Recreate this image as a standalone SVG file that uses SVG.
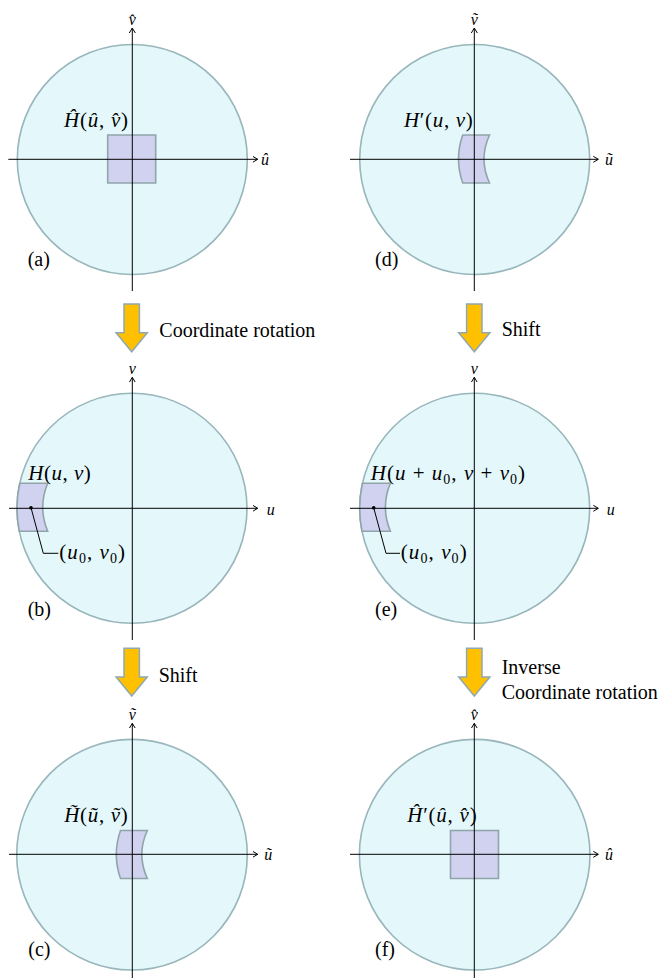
<svg xmlns="http://www.w3.org/2000/svg" width="666" height="978" viewBox="0 0 666 978" font-family="'Liberation Serif', 'Times New Roman', 'DejaVu Serif', serif">
<style>
.disk{fill:#e4f8fb;stroke:#98b6bb;stroke-width:1.6}
.blob{fill:#d0d2f0;stroke:#8fa5aa;stroke-width:1.6}
.ax{stroke:#000;stroke-width:1;fill:none}
.ld{stroke:#000;stroke-width:1;fill:none}
.bar{fill:#ffc000;stroke:#8fa8b2;stroke-width:1.5}
.t,.m,.a{font-family:'Liberation Serif','Times New Roman',serif;fill:#000}
.t{font-size:20px}
.m{font-size:21px}
.a{font-size:16px;font-style:italic}
.i{font-style:italic}
.s{font-size:14px;font-style:normal}
</style>
<defs>
<marker id="ah" markerWidth="8" markerHeight="8" refX="5" refY="3" orient="auto" markerUnits="userSpaceOnUse">
<path d="M0,0 L5,3 L0,6" fill="none" stroke="#000" stroke-width="1"/>
</marker>
<path id="sq" d="M-24,-24 H24 V24 H-24 Z"/>
<path id="cv" d="M-11.8,-24 L15,-24 Q4,0 15,24 L-11.8,24 Q-20.2,0 -11.8,-24 Z"/>
<path id="ed" d="M-112.25,-25 L-84.3,-25 Q-94.3,-1 -84.3,23 L-112.68,23 A115,115 0 0 1 -112.25,-25 Z"/>
<polygon id="arr" points="-7.7,0 7.7,0 7.7,28.7 15.6,28.7 0,47.7 -15.6,28.7 -7.7,28.7"/>
</defs>

<g id="panel-a">
<circle class="disk" cx="132.3" cy="159.5" r="115"/>
<use href="#sq" class="blob" x="131.7" y="159"/>
<line class="ax" x1="132.3" y1="291" x2="132.3" y2="28" marker-end="url(#ah)"/>
<line class="ax" x1="8.3" y1="159.3" x2="257.7" y2="159.3" marker-end="url(#ah)"/>
<text class="a" x="132.3" y="25" text-anchor="middle">v̂</text>
<text class="a" x="261" y="165">û</text>
<text class="m" x="64" y="127" textLength="64" lengthAdjust="spacing"><tspan class="i">Ĥ</tspan>(<tspan class="i">û</tspan>, <tspan class="i">v̂</tspan>)</text>
<text class="t" x="27.7" y="266">(a)</text>
</g>

<g id="panel-d">
<circle class="disk" cx="474.7" cy="159.5" r="115"/>
<use href="#cv" class="blob" x="474.5" y="159"/>
<line class="ax" x1="474.3" y1="291" x2="474.3" y2="28" marker-end="url(#ah)"/>
<line class="ax" x1="350" y1="159.3" x2="598.3" y2="159.3" marker-end="url(#ah)"/>
<text class="a" x="474.3" y="25" text-anchor="middle">ṽ</text>
<text class="a" x="605" y="165">ũ</text>
<text class="m" x="404" y="127" textLength="68.7" lengthAdjust="spacing"><tspan class="i">H</tspan>′(<tspan class="i">u</tspan>, <tspan class="i">v</tspan>)</text>
<text class="t" x="375" y="266">(d)</text>
</g>

<g id="panel-b">
<circle class="disk" cx="132" cy="508.3" r="115"/>
<use href="#ed" class="blob" x="132" y="508.3"/>
<line class="ax" x1="132.3" y1="640" x2="132.3" y2="377.3" marker-end="url(#ah)"/>
<line class="ax" x1="9" y1="508.3" x2="257.7" y2="508.3" marker-end="url(#ah)"/>
<text class="a" x="132.3" y="374" text-anchor="middle">v</text>
<text class="a" x="266.7" y="514.5">u</text>
<circle cx="31" cy="507.7" r="1.8" fill="#000"/>
<polyline class="ld" points="31,507.7 43.3,553.3 58.3,553.3"/>
<text class="m" x="28.3" y="480" textLength="62.4" lengthAdjust="spacing"><tspan class="i">H</tspan>(<tspan class="i">u</tspan>, <tspan class="i">v</tspan>)</text>
<text class="m" x="59.3" y="559" textLength="65.7" lengthAdjust="spacing">(<tspan class="i">u</tspan><tspan class="s" dy="4">0</tspan><tspan dy="-4">, </tspan><tspan class="i">v</tspan><tspan class="s" dy="4">0</tspan><tspan dy="-4">)</tspan></text>
<text class="t" x="27.7" y="616">(b)</text>
</g>

<g id="panel-e">
<circle class="disk" cx="474.7" cy="508.3" r="115"/>
<use href="#ed" class="blob" x="474.7" y="508.3"/>
<line class="ax" x1="474.3" y1="640" x2="474.3" y2="377.3" marker-end="url(#ah)"/>
<line class="ax" x1="350" y1="508.3" x2="598.3" y2="508.3" marker-end="url(#ah)"/>
<text class="a" x="474.3" y="374" text-anchor="middle">v</text>
<text class="a" x="606.7" y="514.5">u</text>
<circle cx="373.7" cy="507.7" r="1.8" fill="#000"/>
<polyline class="ld" points="373.7,507.7 386,553.3 400,553.3"/>
<text class="m" x="370.7" y="480" textLength="154.3" lengthAdjust="spacing"><tspan class="i">H</tspan>(<tspan class="i">u</tspan> + <tspan class="i">u</tspan><tspan class="s" dy="4">0</tspan><tspan dy="-4">, </tspan><tspan class="i">v</tspan> + <tspan class="i">v</tspan><tspan class="s" dy="4">0</tspan><tspan dy="-4">)</tspan></text>
<text class="m" x="400.7" y="559" textLength="66" lengthAdjust="spacing">(<tspan class="i">u</tspan><tspan class="s" dy="4">0</tspan><tspan dy="-4">, </tspan><tspan class="i">v</tspan><tspan class="s" dy="4">0</tspan><tspan dy="-4">)</tspan></text>
<text class="t" x="375" y="616">(e)</text>
</g>

<g id="panel-c">
<circle class="disk" cx="132" cy="854.7" r="115.3"/>
<use href="#cv" class="blob" x="132.3" y="854.5"/>
<line class="ax" x1="132.3" y1="978" x2="132.3" y2="723.3" marker-end="url(#ah)"/>
<line class="ax" x1="9" y1="854.3" x2="257.7" y2="854.3" marker-end="url(#ah)"/>
<text class="a" x="132.3" y="720" text-anchor="middle">ṽ</text>
<text class="a" x="264.3" y="860">ũ</text>
<text class="m" x="64.3" y="822" textLength="63.4" lengthAdjust="spacing"><tspan class="i">H̃</tspan>(<tspan class="i">ũ</tspan>, <tspan class="i">ṽ</tspan>)</text>
<text class="t" x="28.3" y="956">(c)</text>
</g>

<g id="panel-f">
<circle class="disk" cx="474.7" cy="854.7" r="115.3"/>
<use href="#sq" class="blob" x="474.5" y="854.5"/>
<line class="ax" x1="474.3" y1="978" x2="474.3" y2="723.3" marker-end="url(#ah)"/>
<line class="ax" x1="350" y1="854.3" x2="598.3" y2="854.3" marker-end="url(#ah)"/>
<text class="a" x="474.3" y="720" text-anchor="middle">v̂</text>
<text class="a" x="605" y="860">û</text>
<text class="m" x="407.3" y="822" textLength="69.4" lengthAdjust="spacing"><tspan class="i">Ĥ</tspan>′(<tspan class="i">û</tspan>, <tspan class="i">v̂</tspan>)</text>
<text class="t" x="375" y="956">(f)</text>
</g>

<g id="connectors">
<use href="#arr" class="bar" x="131.7" y="304"/>
<use href="#arr" class="bar" x="474.3" y="304"/>
<use href="#arr" class="bar" x="131.7" y="648.3"/>
<use href="#arr" class="bar" x="474.3" y="648.3"/>
<text class="t" x="159.3" y="337">Coordinate rotation</text>
<text class="t" x="501.7" y="336">Shift</text>
<text class="t" x="158.7" y="682">Shift</text>
<text class="t" x="501.7" y="674">Inverse</text>
<text class="t" x="501.7" y="699">Coordinate rotation</text>
</g>
</svg>
